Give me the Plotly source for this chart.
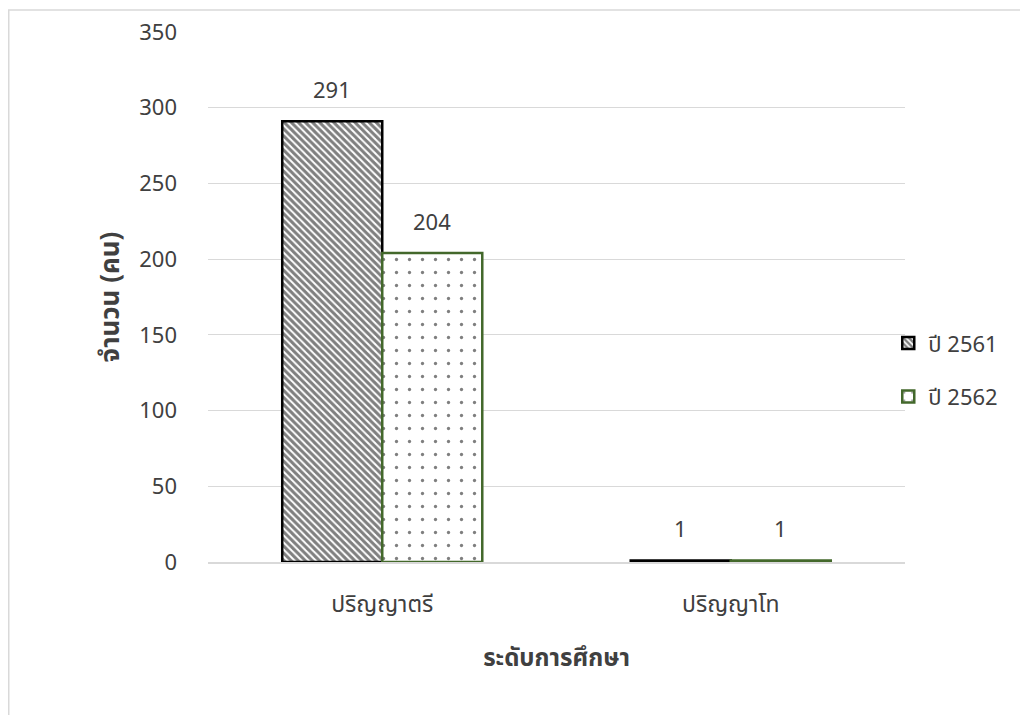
import plotly.graph_objects as go

categories = ["ปริญญาตรี", "ปริญญาโท"]
series_names = ["ปี 2561", "ปี 2562"]
values_2561 = [291, 1]
values_2562 = [204, 1]
y_ticks = [0, 50, 100, 150, 200, 250, 300, 350]

FONT = "Tahoma, 'Noto Sans Thai', 'Noto Sans', sans-serif"
TXT = "#404040"

W, H = 1020, 707
L, T = 200, 24
pw, ph = 697, 530
R, B = W - L - pw, H - T - ph
BAR_HALF_PX = 50

fig = go.Figure()
fig.add_trace(go.Bar(
    name=series_names[0], x=categories, y=values_2561, legendgroup="a",
    marker=dict(color="white", line=dict(color="black", width=2.5),
                pattern=dict(shape="\\", fgcolor="black", bgcolor="white",
                             size=5, solidity=0.6)),
))
fig.add_trace(go.Bar(
    name=series_names[1], x=categories, y=values_2562, legendgroup="b",
    marker=dict(color="white", line=dict(color="#43682B", width=2.5),
                pattern=dict(shape=".", fgcolor="black", bgcolor="white",
                             size=13, solidity=0.05)),
))

annotations = []
for vals, shift in ((values_2561, -BAR_HALF_PX), (values_2562, BAR_HALF_PX)):
    for cat, v in zip(categories, vals):
        annotations.append(dict(
            x=cat, y=v, xref="x", yref="y", text=str(v), showarrow=False,
            xshift=shift, yshift=11, yanchor="bottom",
            font=dict(size=22, color=TXT, family=FONT),
        ))

fig.update_layout(
    width=W, height=H,
    margin=dict(l=L, r=R, t=T, b=B, autoexpand=False),
    paper_bgcolor="white", plot_bgcolor="white",
    barmode="group", bargap=0.426, bargroupgap=0,
    font=dict(family=FONT, size=22, color=TXT),
    showlegend=True,
    legend=dict(x=0.976, xanchor="left", y=0.362, yanchor="middle",
                font=dict(size=22, color=TXT, family=FONT),
                itemwidth=30, tracegroupgap=22, bgcolor="rgba(0,0,0,0)"),
    xaxis=dict(
        title=dict(text="<b>ระดับการศึกษา</b>", font=dict(size=24, color=TXT, family=FONT), standoff=28),
        tickfont=dict(size=23, color=TXT, family=FONT),
        showline=True, linecolor="#d9d9d9", linewidth=1.5,
        ticks="", showgrid=False, ticklabelstandoff=21,
    ),
    yaxis=dict(
        title=dict(text="<b>จำนวน (คน)</b>", font=dict(size=26, color=TXT, family=FONT), standoff=12),
        range=[0, 350], tickvals=y_ticks, ticktext=[str(v) for v in y_ticks],
        tickfont=dict(size=22, color=TXT, family=FONT),
        showgrid=True, gridcolor="#d9d9d9", gridwidth=1.3,
        zeroline=False, ticks="", ticklabelstandoff=30,
    ),
    annotations=annotations,
    shapes=[dict(
        type="rect", xref="paper", yref="paper",
        x0=(0.75 - L) / pw, x1=(W + 10 - L) / pw,
        y0=-(H + 10 - (T + ph)) / ph, y1=1 + (T - 2) / ph,
        line=dict(color="#d9d9d9", width=1.5), fillcolor="rgba(0,0,0,0)", layer="below",
    )],
)

fig.write_html("out.html")
